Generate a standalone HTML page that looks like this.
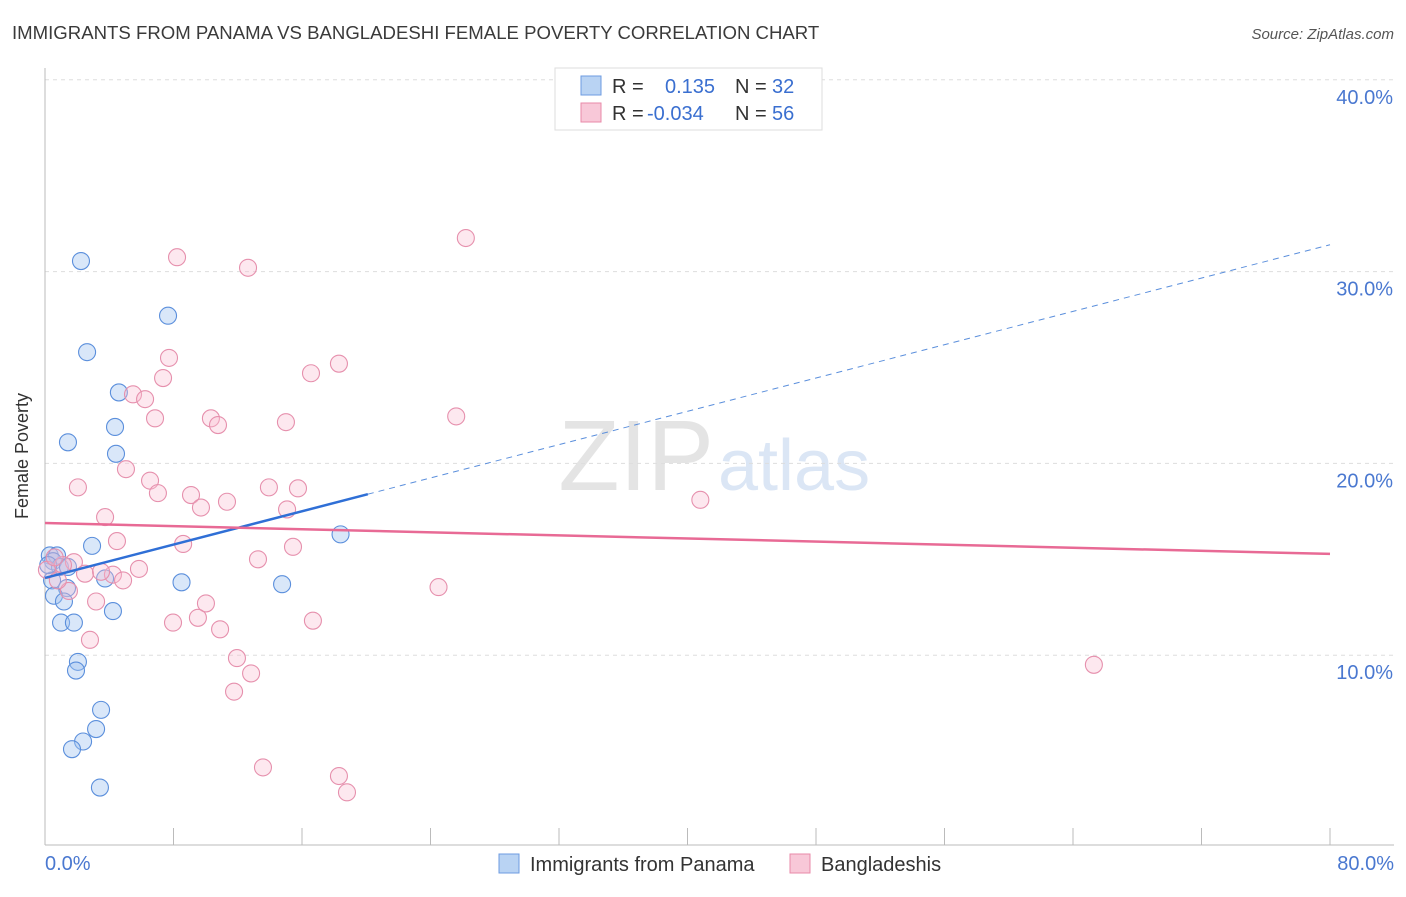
<!DOCTYPE html>
<html><head><meta charset="utf-8"><style>
body{margin:0;background:#fff;font-family:"Liberation Sans",sans-serif}
svg text{font-family:"Liberation Sans",sans-serif}
</style></head><body>
<svg width="1406" height="892" viewBox="0 0 1406 892">
<text x="12" y="39" font-size="18.6" fill="#3a3a3a">IMMIGRANTS FROM PANAMA VS BANGLADESHI FEMALE POVERTY CORRELATION CHART</text>
<text x="1394" y="39" font-size="15" fill="#555" text-anchor="end" font-style="italic">Source: ZipAtlas.com</text>
<text x="714" y="490" font-size="100" fill="#e4e4e4" text-anchor="end" font-family="Liberation Serif">ZIP</text>
<text x="718" y="490" font-size="72" fill="#dbe6f5">atlas</text>
<g id="grid"></g><g id="axes"></g><g id="pts"></g><g id="trend"></g>
<text x="28" y="456" font-size="18" fill="#333" text-anchor="middle" transform="rotate(-90 28 456)">Female Poverty</text>
<text x="45" y="870" font-size="20" fill="#4a78d0">0.0%</text>
<text x="1394" y="870" font-size="20" fill="#4a78d0" text-anchor="end">80.0%</text>
<g>
<rect x="555" y="68" width="267" height="62" fill="#fff" stroke="#ddd"/>
<rect x="581" y="76" width="20" height="19" fill="#b9d3f3" stroke="#6d9be0"/>
<rect x="581" y="103" width="20" height="19" fill="#f8c8d8" stroke="#e88aa8"/>
<text x="612" y="93" font-size="20" fill="#333">R = </text><text x="665" y="93" font-size="20" fill="#3a6fd0">0.135</text>
<text x="735" y="93" font-size="20" fill="#333">N = </text><text x="772" y="93" font-size="20" fill="#3a6fd0">32</text>
<text x="612" y="120" font-size="20" fill="#333">R = </text><text x="647" y="120" font-size="20" fill="#3a6fd0">-0.034</text>
<text x="735" y="120" font-size="20" fill="#333">N = </text><text x="772" y="120" font-size="20" fill="#3a6fd0">56</text>
</g>
<g>
<rect x="499" y="854" width="20" height="19" fill="#b9d3f3" stroke="#6d9be0"/>
<text x="530" y="871" font-size="20" fill="#333">Immigrants from Panama</text>
<rect x="790" y="854" width="20" height="19" fill="#f8c8d8" stroke="#e88aa8"/>
<text x="821" y="871" font-size="20" fill="#333">Bangladeshis</text>
</g>
</svg>
<script>
const yTicks=[10,20,30,40];
const yTickLabels=["10.0%","20.0%","30.0%","40.0%"];
const xTicks=[0,8,16,24,32,40,48,56,64,72,80];
const panamaX=[2.24,7.66,2.62,4.6,4.36,1.43,4.42,18.4,2.93,0.3,0.75,0.5,0.93,1.43,0.44,3.74,8.5,14.76,1.37,0.56,1.18,4.23,1.0,1.8,2.05,1.93,3.49,3.18,2.37,1.68,3.42,0.2];
const panamaY=[30.55,27.7,25.8,23.7,21.9,21.1,20.5,16.3,15.7,15.2,15.2,14.9,14.6,14.6,13.9,14.0,13.8,13.7,13.5,13.1,12.8,12.3,11.7,11.7,9.65,9.2,7.15,6.15,5.5,5.1,3.1,14.7];
const banglaX=[26.2,8.22,12.64,7.72,18.3,16.56,7.35,5.48,6.23,6.85,10.33,25.6,10.77,15.0,5.04,6.54,2.05,13.94,15.75,7.03,9.09,40.8,11.33,9.71,15.07,3.74,4.48,8.6,15.44,13.26,1.8,1.12,5.85,2.49,4.23,3.49,4.86,24.5,1.49,3.18,10.02,9.52,7.97,16.68,10.9,2.8,11.95,12.83,65.3,11.77,13.57,18.3,18.8,0.12,0.8,0.6];
const banglaY=[31.75,30.75,30.2,25.5,25.2,24.7,24.45,23.6,23.35,22.35,22.35,22.45,22.0,22.15,19.7,19.1,18.75,18.75,18.7,18.45,18.35,18.1,18.0,17.7,17.6,17.2,15.95,15.8,15.65,15.0,14.85,14.7,14.5,14.25,14.2,14.35,13.9,13.55,13.35,12.8,12.7,11.95,11.7,11.8,11.35,10.8,9.85,9.05,9.5,8.1,4.15,3.7,2.85,14.45,13.9,15.1];
const panamaTrend=[14.03,31.4]; const panamaSolidEnd=20.1;
const banglaTrend=[16.89,15.28];
const NS='http://www.w3.org/2000/svg';
const X=v=>45+v*1285/80, Y=v=>847-v*19.18;
function mk(t,a,p){const e=document.createElementNS(NS,t);for(const k in a)e.setAttribute(k,a[k]);p.appendChild(e);return e;}
const grid=document.getElementById('grid'),axes=document.getElementById('axes'),pts=document.getElementById('pts'),tr=document.getElementById('trend');
yTicks.forEach((v,i)=>{
 const l=mk('line',{x1:45,x2:1394,y1:Y(v),y2:Y(v),stroke:'#ddd','stroke-dasharray':'4,4'},grid);
 
 
 const t=mk('text',{x:1393,y:Y(v)+24,'font-size':20,fill:'#4a78d0','text-anchor':'end'},grid);t.textContent=yTickLabels[i];
 
 
});
const ya=mk('line',{x1:45,x2:45,y1:68,y2:845,stroke:'#bbb'},axes);


const xa=mk('line',{x1:45,x2:1394,y1:845,y2:845,stroke:'#bbb'},axes);


xTicks.forEach(v=>{const t=mk('line',{x1:X(v),x2:X(v),y1:828,y2:845,stroke:'#bbb'},axes);
 
 });
panamaX.forEach((v,i)=>{const c=mk('circle',{cx:X(v),cy:Y(panamaY[i]),r:8.5,fill:'rgba(160,195,240,0.4)',stroke:'#5b8fdc','stroke-width':1.1},pts);
 
 });
banglaX.forEach((v,i)=>{const c=mk('circle',{cx:X(v),cy:Y(banglaY[i]),r:8.5,fill:'rgba(248,190,210,0.35)',stroke:'#e690ad','stroke-width':1.1},pts);
 
 });
const py=v=>panamaTrend[0]+(panamaTrend[1]-panamaTrend[0])*v/80;
const l1=mk('line',{x1:X(0),y1:Y(py(0)),x2:X(panamaSolidEnd),y2:Y(py(panamaSolidEnd)),stroke:'#2f6fd6','stroke-width':2.5},tr);


const l2=mk('line',{x1:X(panamaSolidEnd),y1:Y(py(panamaSolidEnd)),x2:X(80),y2:Y(py(80)),stroke:'#5b8fdc','stroke-width':1,'stroke-dasharray':'6,5'},tr);


const l3=mk('line',{x1:X(0),y1:Y(banglaTrend[0]),x2:X(80),y2:Y(banglaTrend[1]),stroke:'#e86a95','stroke-width':2.5},tr);


</script>
</body></html>
